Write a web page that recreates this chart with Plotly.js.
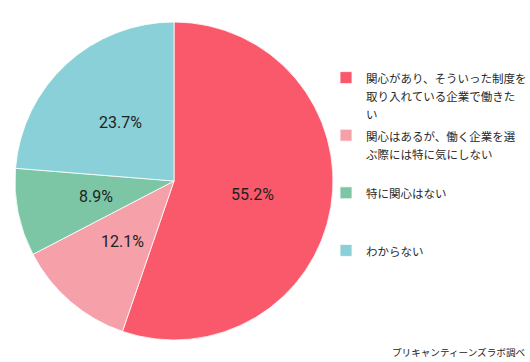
<!DOCTYPE html>
<html>
<head>
<meta charset="utf-8">
<script src="https://cdn.plot.ly/plotly-3.0.1.min.js"></script>
<style>html,body{margin:0;padding:0;background:#fff;}#chart{width:530px;height:362px;}</style>
</head>
<body>
<div id="chart"></div>
<script>
// Data
var categoryLines = [
  ["関心があり、そういった制度を", "取り入れている企業で働きた", "い"],
  ["関心はあるが、働く企業を選", "ぶ際には特に気にしない"],
  ["特に関心はない"],
  ["わからない"]
];
var values = [55.2, 12.1, 8.9, 23.7];
var colors = ["#F9596B", "#F6A1A9", "#7CC6A6", "#8AD0D8"];
var sourceNote = "プリキャンティーンズラボ調べ";

// Legend labels: visible glyphs small, line pitch from outer legend font size
function legendLabel(lines) {
  var out = lines.map(function (l) { return "<span style='font-size:11.5px'>" + l + "</span>"; });
  while (out.length < 3) out.push(" ");
  return out.join("<br>");
}
var labels = categoryLines.map(legendLabel);

var pieDomX = [15 / 530, 333 / 530];
var pieDomY = [22 / 362, 340 / 362];

var trace = {
  type: "pie",
  labels: labels,
  values: values,
  sort: false,
  direction: "clockwise",
  rotation: 0,
  marker: { colors: colors, line: { color: "#ffffff", width: 0.8 } },
  textinfo: "none",
  hoverinfo: "none",
  domain: { x: pieDomX, y: pieDomY }
};

// Data labels at half radius along each slice's bisector, placed on unit-radius axes overlaying the pie
var total = values.reduce(function (a, b) { return a + b; }, 0);
var labelAnnotations = [], cum = 0;
values.forEach(function (v) {
  var mid = (cum + v / 2) / total * 2 * Math.PI;
  labelAnnotations.push({
    xref: "x", yref: "y",
    x: 0.5 * Math.sin(mid), y: 0.5 * Math.cos(mid),
    text: v.toFixed(1) + "%",
    showarrow: false,
    xanchor: "center", yanchor: "middle",
    font: { family: "Roboto, 'Noto Sans CJK JP', sans-serif", size: 16, color: "#222222" }
  });
  cum += v;
});

var layout = {
  width: 530,
  height: 362,
  margin: { l: 0, r: 0, t: 0, b: 0, autoexpand: false },
  paper_bgcolor: "#ffffff",
  plot_bgcolor: "rgba(0,0,0,0)",
  showlegend: true,
  xaxis: { domain: pieDomX, range: [-1, 1], visible: false, fixedrange: true },
  yaxis: { domain: pieDomY, range: [-1, 1], visible: false, fixedrange: true },
  legend: {
    x: 326 / 530,
    xanchor: "left",
    y: 1 - 62 / 362,
    yanchor: "top",
    valign: "top",
    font: { family: "'Noto Sans CJK JP', sans-serif", size: 14, color: "#2a2a2a" },
    bgcolor: "rgba(0,0,0,0)"
  },
  annotations: labelAnnotations.concat([{
    text: sourceNote,
    xref: "paper", yref: "paper",
    x: 1, y: 0, xanchor: "right", yanchor: "bottom",
    xshift: -3, yshift: 1,
    showarrow: false,
    font: { family: "'Noto Sans CJK JP', sans-serif", size: 9.6, color: "#222222" }
  }])
};

Plotly.newPlot("chart", [trace], layout, { displayModeBar: false, staticPlot: true });
</script>
</body>
</html>
